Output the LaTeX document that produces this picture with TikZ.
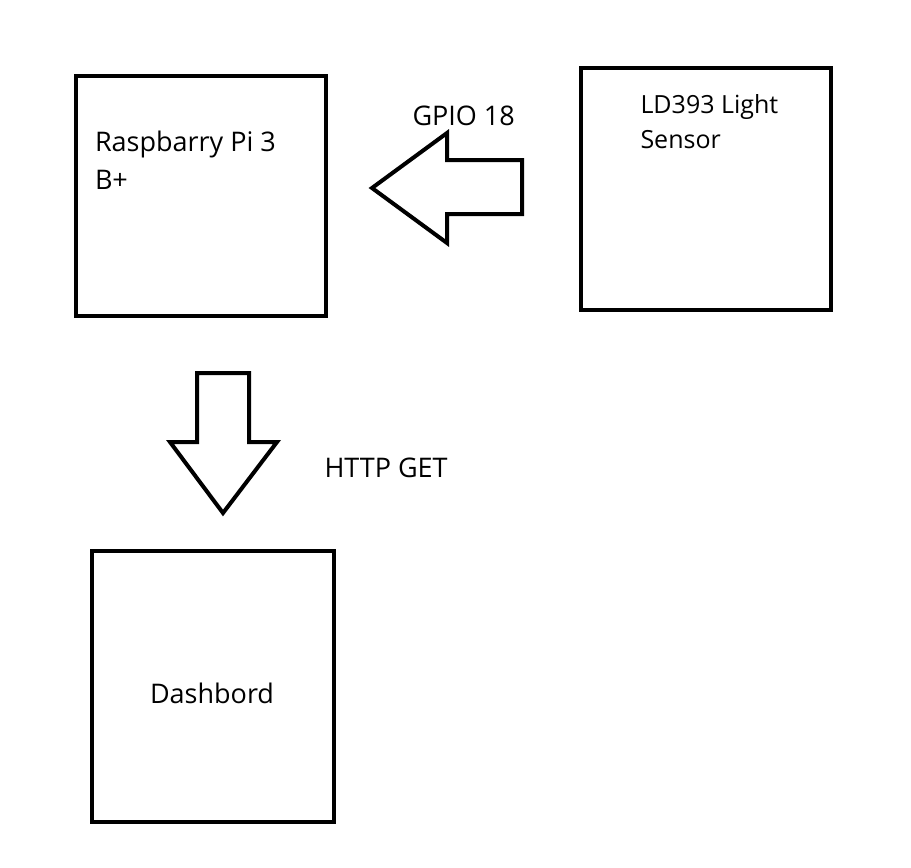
\documentclass[tikz,border=0pt]{standalone}
\usepackage{fontspec}
\setmainfont{Open Sans}

\begin{document}
\begin{tikzpicture}[x=1pt, y=-1pt, draw=black, line width=4pt,
  box/.style={draw, rectangle, inner sep=0pt},
  lbl/.style={align=left, anchor=base west, inner sep=0pt, font=\fontsize{27}{37.6}\selectfont},
  blockarrow/.style={draw, fill=white, line join=miter}]

\useasboundingbox (0,0) rectangle (911,868);

\node[box, minimum width=250pt, minimum height=240.5pt] (pi) at (200.5,195.75) {};
\node[lbl] (pitext) at (93,189.5) {Raspbarry Pi 3\\B+};

\node[box, minimum width=250pt, minimum height=242.5pt] (sensor) at (705.5,188.75) {};
\node[lbl, font=\fontsize{25}{35}\selectfont] (sensortext) at (638.5,148.5) {LD393 Light\\Sensor};

\node[box, minimum width=242pt, minimum height=271pt] (dash) at (213,686.5) {};
\node[lbl] (dashtext) at (148,703.5) {Dashbord};

% block arrows
\draw[blockarrow] (372,188) -- (447,133) -- (447,160) -- (522,160) -- (522,214)
  -- (447,214) -- (447,243) -- cycle;
\node[lbl] (gpio) at (410.5,125) {GPIO 18};

\draw[blockarrow] (197,373) -- (249,373) -- (249,442) -- (277,442) -- (223,513)
  -- (170,442) -- (197,442) -- cycle;
\node[lbl] (http) at (322.5,477.5) {HTTP GET};
\end{tikzpicture}
\end{document}
